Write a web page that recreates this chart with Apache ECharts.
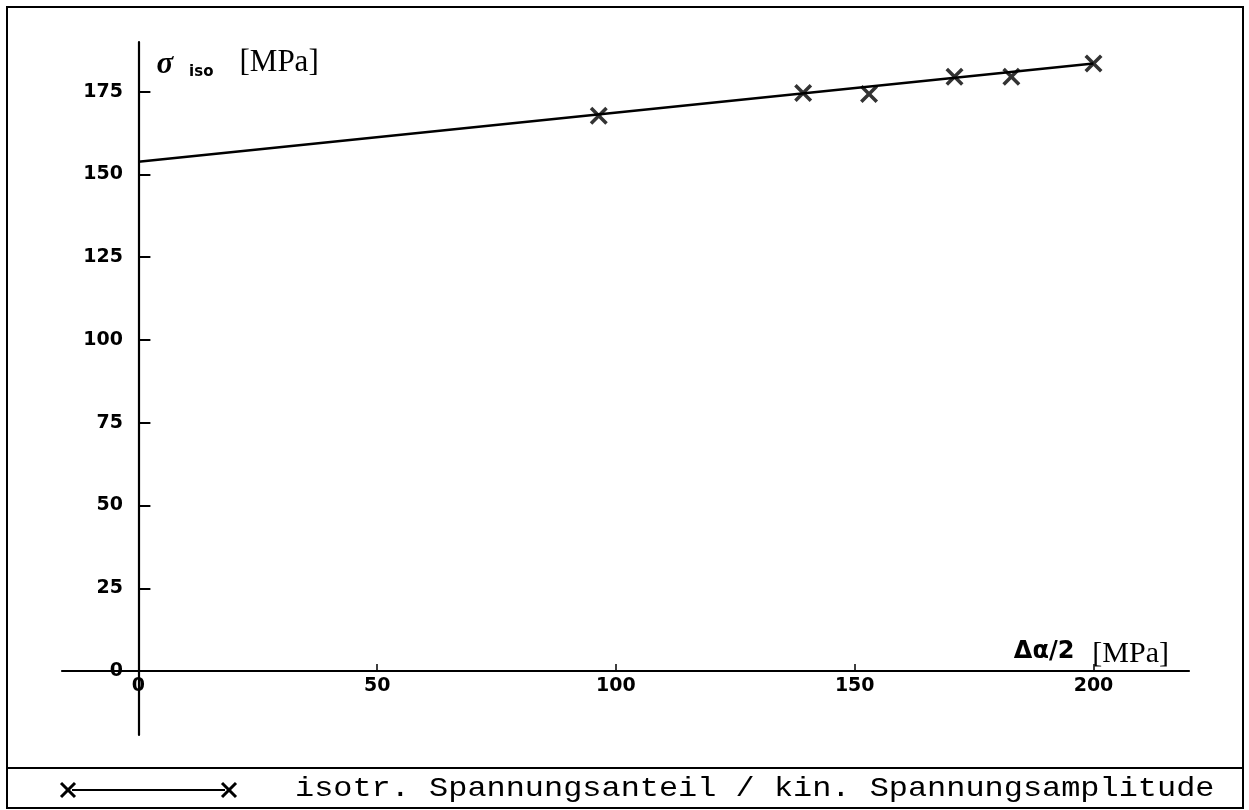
<!DOCTYPE html>
<html>
<head>
<meta charset="utf-8">
<script src="https://cdn.jsdelivr.net/npm/echarts@6/dist/echarts.min.js"></script>
<style>
  html, body { margin: 0; padding: 0; background: #fff; }
  #chart { width: 1249px; height: 810px; }
</style>
</head>
<body>
<div id="chart"></div>
<script>
// Measured points: kinematic stress amplitude vs. isotropic stress share
const amplitude = [96.4, 139.2, 153.0, 170.9, 182.8, 200.0];
const isoStress = [167.7, 174.6, 174.3, 179.5, 179.5, 183.5];

// Straight-line fit through the measurements
const fitAmplitude = [0, 200];
const fitIsoStress = [153.8, 183.5];

// Tick positions
const xTicks = [0, 50, 100, 150, 200];
const yTicks = [0, 25, 50, 75, 100, 125, 150, 175];

const seriesName = 'isotr. Spannungsanteil / kin. Spannungsamplitude';

// Cross-shaped marker
const crossPath = 'path://M0,2.5 L2.5,0 L9,6.5 L15.5,0 L18,2.5 L11.5,9 L18,15.5 L15.5,18 L9,11.5 L2.5,18 L0,15.5 L6.5,9 Z';

const tickLabelStyle = {
  color: '#000',
  fontFamily: 'DejaVu Sans',
  fontWeight: 'bold',
  fontSize: 19
};

const chart = echarts.init(document.getElementById('chart'), null, { renderer: 'canvas' });

chart.setOption({
  backgroundColor: '#fff',
  animation: false,
  grid: { left: 62, right: 60, top: 42, bottom: 75, containLabel: false },
  xAxis: {
    type: 'value',
    min: -16,
    max: 220,
    splitLine: { show: false },
    axisLine: { onZero: true, lineStyle: { color: '#000', width: 2.2 } },
    axisTick: { inside: true, length: 7, customValues: xTicks, lineStyle: { color: '#000', width: 1.5 } },
    // labels sit just below the zero line, not the grid edge
    axisLabel: Object.assign({ customValues: xTicks, margin: -58 }, tickLabelStyle),
    name: '{a|Δα/2}{b|[MPa]}',
    nameLocation: 'end',
    nameGap: -20,
    nameTextStyle: {
      align: 'right',
      verticalAlign: 'bottom',
      padding: [0, 0, 2, 0],
      rich: {
        a: { fontFamily: 'DejaVu Sans', fontWeight: 'bold', fontSize: 24, color: '#000', padding: [0, 18, 4, 0] },
        b: { fontFamily: 'Liberation Serif', fontSize: 30, color: '#000' }
      }
    }
  },
  yAxis: {
    type: 'value',
    min: -19.3,
    max: 190,
    splitLine: { show: false },
    axisLine: { onZero: true, lineStyle: { color: '#000', width: 2.2 } },
    axisTick: { inside: true, length: 12, customValues: yTicks, lineStyle: { color: '#000', width: 2 } },
    // labels sit left of the zero line, not the grid edge
    axisLabel: Object.assign({ customValues: yTicks, margin: -61 }, tickLabelStyle),
    name: '{s|σ}{i|iso}{u|[MPa]}',
    nameLocation: 'end',
    nameGap: 3,
    nameTextStyle: {
      align: 'left',
      verticalAlign: 'top',
      padding: [0, 0, 0, 18],
      rich: {
        s: { fontFamily: 'Liberation Serif', fontStyle: 'italic', fontWeight: 'bold', fontSize: 31, color: '#000', verticalAlign: 'bottom', padding: [0, 16, 0, 0] },
        i: { fontFamily: 'DejaVu Sans', fontWeight: 'bold', fontSize: 15, color: '#000', verticalAlign: 'bottom', padding: [26, 26, 0, 0] },
        u: { fontFamily: 'Liberation Serif', fontSize: 31, color: '#000', verticalAlign: 'bottom', padding: [0, 0, 2, 0] }
      }
    }
  },
  series: [
    {
      name: 'Ausgleichsgerade',
      type: 'line',
      data: fitAmplitude.map((x, i) => [x, fitIsoStress[i]]),
      showSymbol: false,
      symbol: 'none',
      lineStyle: { color: '#000', width: 2.5 },
      silent: true,
      z: 2
    },
    {
      name: seriesName,
      type: 'scatter',
      data: amplitude.map((x, i) => [x, isoStress[i]]),
      symbol: crossPath,
      symbolSize: 18,
      itemStyle: { color: '#000' },
      z: 3
    }
  ],
  graphic: [
    // outer frame and legend separator
    { type: 'rect', shape: { x: 7, y: 7, width: 1236, height: 801 }, style: { fill: null, stroke: '#000', lineWidth: 2 }, z: 10 },
    { type: 'line', shape: { x1: 7, y1: 768, x2: 1243, y2: 768 }, style: { stroke: '#000', lineWidth: 2 }, z: 10 },
    // legend key: cross — line — cross
    { type: 'line', shape: { x1: 72, y1: 790, x2: 225, y2: 790 }, style: { stroke: '#000', lineWidth: 2 }, z: 10 },
    { type: 'line', shape: { x1: 61, y1: 783, x2: 75, y2: 797 }, style: { stroke: '#000', lineWidth: 3 }, z: 10 },
    { type: 'line', shape: { x1: 61, y1: 797, x2: 75, y2: 783 }, style: { stroke: '#000', lineWidth: 3 }, z: 10 },
    { type: 'line', shape: { x1: 222, y1: 783, x2: 236, y2: 797 }, style: { stroke: '#000', lineWidth: 3 }, z: 10 },
    { type: 'line', shape: { x1: 222, y1: 797, x2: 236, y2: 783 }, style: { stroke: '#000', lineWidth: 3 }, z: 10 },
    {
      type: 'text',
      x: 295,
      y: 789,
      scaleX: 1.14,
      originX: 0,
      originY: 0,
      style: {
        text: seriesName,
        fontFamily: 'Liberation Mono',
        fontSize: 28,
        fill: '#000',
        verticalAlign: 'middle',
        align: 'left'
      },
      z: 10
    }
  ]
});
</script>
</body>
</html>
